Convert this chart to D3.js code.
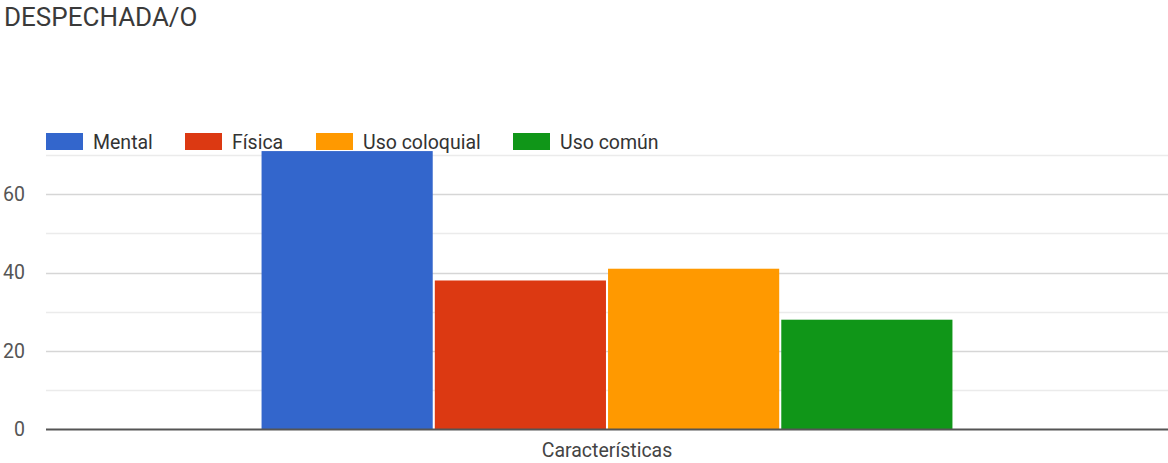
<!DOCTYPE html>
<html>
<head>
<meta charset="utf-8">
<script src="https://cdn.jsdelivr.net/npm/d3@7"></script>
<style>
  html, body { margin: 0; padding: 0; background: #fff; }
  svg { display: block; font-family: Roboto, "Noto Sans", Arial, sans-serif; }
</style>
</head>
<body>
<svg id="chart" width="1168" height="463"></svg>
<script>
// Chart data
const categories = ["Características"];
const seriesNames = ["Mental", "Física", "Uso coloquial", "Uso común"];
const seriesValues = [71, 38, 41, 28];
const seriesColors = ["#3366cc", "#dc3912", "#ff9900", "#109618"];
const yTicks = [0, 20, 40, 60];
const yMinorTicks = [10, 30, 50, 70];

const svg = d3.select("#chart");
const plot = { left: 46, right: 1168, top: 155, bottom: 429.5 };
const FONT = "Roboto, 'Noto Sans', Arial, sans-serif";

// Title
svg.append("text")
  .attr("x", 4).attr("y", 26)
  .attr("font-size", 26).attr("fill", "#3a3a3a")
  .text("DESPECHADA/O");

// Scales
const y = d3.scaleLinear().domain([0, 70]).range([plot.bottom, plot.top]);
const x0 = d3.scaleBand().domain(categories).range([plot.left, plot.right])
  .paddingInner(0).paddingOuter(0.312);
const x1 = d3.scaleBand().domain(seriesNames).range([0, x0.bandwidth()])
  .paddingInner(0.012).paddingOuter(0);

// Gridlines: light minor lines, slightly darker major lines
svg.append("g").selectAll("line").data(yMinorTicks).join("line")
  .attr("x1", plot.left).attr("x2", plot.right)
  .attr("y1", d => Math.round(y(d)) + 0.5).attr("y2", d => Math.round(y(d)) + 0.5)
  .attr("stroke", "#ebebeb").attr("stroke-width", 1.5);
svg.append("g").selectAll("line").data(yTicks.filter(d => d !== 0)).join("line")
  .attr("x1", plot.left).attr("x2", plot.right)
  .attr("y1", d => Math.round(y(d)) + 0.5).attr("y2", d => Math.round(y(d)) + 0.5)
  .attr("stroke", "#d6d6d6").attr("stroke-width", 1.5);

// Y axis labels
const yAxis = d3.axisLeft(y).tickValues(yTicks).tickSize(0).tickPadding(0);
const gy = svg.append("g").attr("transform", "translate(25,0)").call(yAxis);
gy.select(".domain").remove();
gy.selectAll("text").attr("font-size", 19.5).attr("fill", "#555").attr("font-family", FONT);

// Bars
const group = svg.append("g").selectAll("g").data(categories).join("g")
  .attr("transform", d => `translate(${x0(d)},0)`);
group.selectAll("rect")
  .data(seriesNames.map((s, i) => ({ name: s, value: seriesValues[i], color: seriesColors[i] })))
  .join("rect")
  .attr("x", d => x1(d.name))
  .attr("width", x1.bandwidth())
  .attr("y", d => y(d.value))
  .attr("height", d => y(0) - y(d.value))
  .attr("fill", d => d.color);

// Baseline
svg.append("line")
  .attr("x1", plot.left).attr("x2", plot.right)
  .attr("y1", y(0)).attr("y2", y(0))
  .attr("stroke", "#555").attr("stroke-width", 2);

// X axis category label
const xAxis = d3.axisBottom(x0).tickSize(0).tickPadding(0);
const gx = svg.append("g").attr("transform", `translate(0,${y(0) + 27.5})`).call(xAxis);
gx.select(".domain").remove();
gx.selectAll("text").attr("font-size", 19.5).attr("fill", "#444").attr("dy", 0).attr("font-family", FONT);

// Legend
const legendX = [46, 185, 316, 513];
const legend = svg.append("g").selectAll("g").data(seriesNames).join("g")
  .attr("transform", (d, i) => `translate(${legendX[i]},133)`);
legend.append("rect")
  .attr("width", 37).attr("height", 17)
  .attr("fill", (d, i) => seriesColors[i]);
legend.append("text")
  .attr("x", 47).attr("y", 16)
  .attr("font-size", 19.5).attr("fill", "#333")
  .text(d => d);
</script>
</body>
</html>
